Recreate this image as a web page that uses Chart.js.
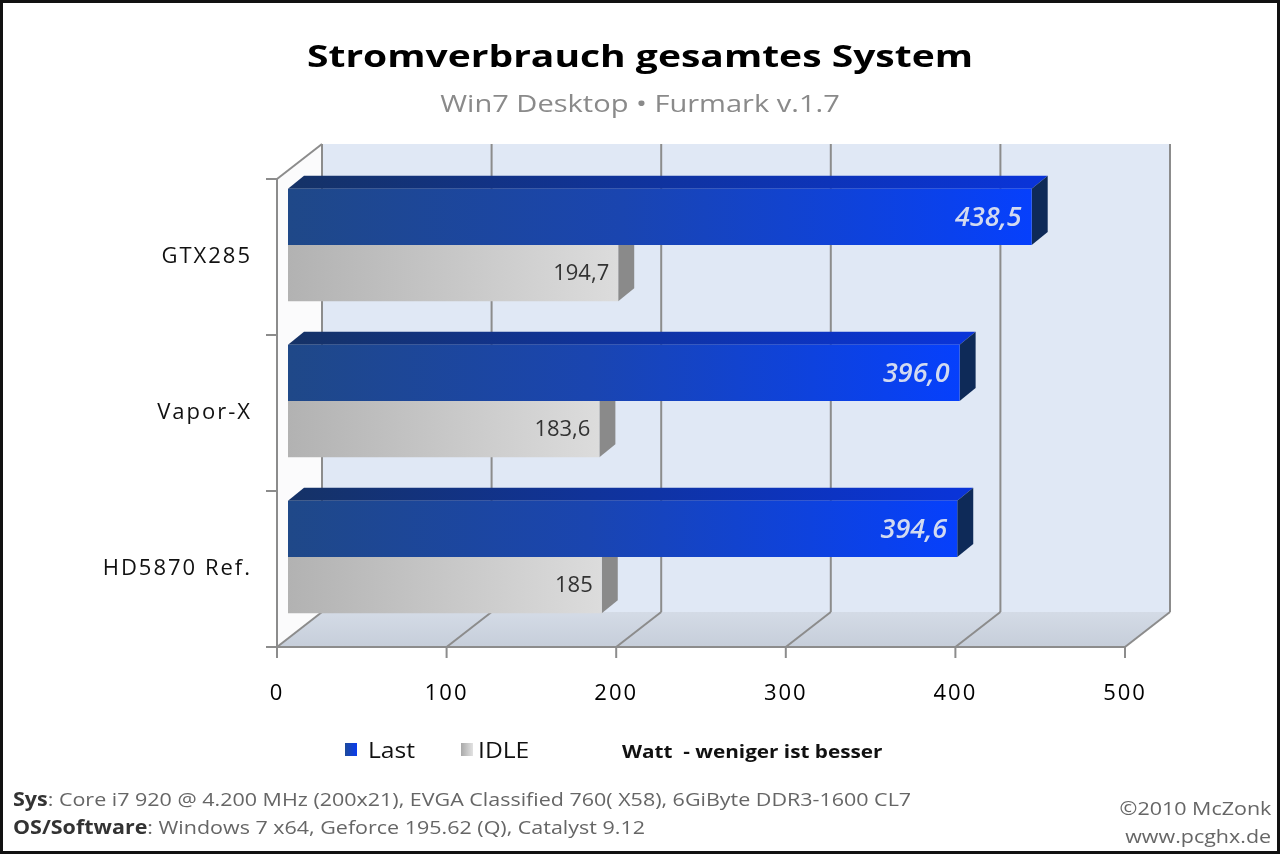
<!DOCTYPE html>
<html>
<head>
<meta charset="utf-8">
<script src="https://cdn.jsdelivr.net/npm/chart.js@4"></script>
<style>
  body { margin: 0; background: #fff; }
  #frame {
    position: relative; width: 1280px; height: 854px;
    box-sizing: border-box; border: 3px solid #111; overflow: hidden;
    font-family: "Open Sans", sans-serif;
  }
  #chart { position: absolute; left: -3px; top: -3px; }
  .txt { position: absolute; white-space: nowrap; line-height: normal; }
  .sl { transform-origin: left top; }
  .sr { transform-origin: right top; }
  #title { left: 0; width: 1274px; text-align: center; top: 32px; font-size: 30px; font-weight: bold; color: #000; transform: scaleX(1.30); }
  #subtitle { left: 0; width: 1274px; text-align: center; top: 83px; font-size: 24px; color: #8a8a8a; transform: scaleX(1.21); }
  .sw { position: absolute; width: 12px; height: 13px; }
  .leg { font-size: 22px; color: #111; transform: scaleX(1.12); }
  .foot { font-size: 19px; color: #666; transform: scaleX(1.13); }
  .foot b { color: #333; }
</style>
</head>
<body>
<div id="frame">
  <canvas id="chart" width="1280" height="854"></canvas>
  <div class="txt" id="title">Stromverbrauch gesamtes System</div>
  <div class="txt" id="subtitle">Win7 Desktop • Furmark v.1.7</div>

  <div class="sw" style="left:342px; top:740px; background:linear-gradient(90deg,#1d4a9a,#0a3cf0);"></div>
  <div class="txt leg sl" style="left:365px; top:731px;">Last</div>
  <div class="sw" style="left:458px; top:740px; background:linear-gradient(90deg,#a9a9a9,#e2e2e2);"></div>
  <div class="txt leg sl" style="left:475px; top:731px;">IDLE</div>
  <div class="txt sl" style="left:619px; top:736px; font-size:18px; font-weight:bold; color:#111; transform:scaleX(1.15);">Watt&nbsp; - weniger ist besser</div>

  <div class="txt foot sl" style="left:10px; top:783px;"><b>Sys</b>: Core i7 920 @ 4.200 MHz (200x21), EVGA Classified 760( X58), 6GiByte DDR3-1600 CL7</div>
  <div class="txt foot sl" style="left:10px; top:811px;"><b>OS/Software</b>: Windows 7 x64, Geforce 195.62 (Q), Catalyst 9.12</div>
  <div class="txt foot sr" style="right:6px; top:792px;">©2010 McZonk</div>
  <div class="txt foot sr" style="right:6px; top:820px;">www.pcghx.de</div>
</div>

<script>
// Data
const cards = ['GTX285', 'Vapor-X', 'HD5870 Ref.'];
const lastValues = [438.5, 396.0, 394.6];
const idleValues = [194.7, 183.6, 185];
const xTicks = [0, 100, 200, 300, 400, 500];

// 3D look
const FRONT = { dx: -11, dy: 12 };   // front plane, relative to bar plane
const BACK = { dx: 34, dy: -23 };    // back wall, relative to bar plane
const BAR_DEPTH = { dx: 16, dy: -13 };

function fmt(v) {
    return Number.isInteger(v) ? String(v) : v.toFixed(1).replace('.', ',');
}

function barGradient(ctx, ds) {
    const chart = ctx.chart;
    const area = chart.chartArea;
    if (!area) return ds === 0 ? '#1540c0' : '#c8c8c8';
    const x = chart.scales.x;
    const end = x.getPixelForValue(ctx.raw);
    const g = chart.ctx.createLinearGradient(area.left, 0, end, 0);
    if (ds === 0) {
        g.addColorStop(0, '#1f4888');
        g.addColorStop(0.45, '#1a45b0');
        g.addColorStop(1, '#0640fc');
    } else {
        g.addColorStop(0, '#b2b2b2');
        g.addColorStop(1, '#dcdcdc');
    }
    return g;
}

function poly(ctx, pts, fill, stroke, lw) {
    ctx.beginPath();
    ctx.moveTo(pts[0][0], pts[0][1]);
    for (let i = 1; i < pts.length; i++) ctx.lineTo(pts[i][0], pts[i][1]);
    ctx.closePath();
    if (fill) { ctx.fillStyle = fill; ctx.fill(); }
    if (stroke) { ctx.strokeStyle = stroke; ctx.lineWidth = lw || 1; ctx.stroke(); }
}

function line(ctx, x1, y1, x2, y2, color, lw) {
    ctx.beginPath();
    ctx.moveTo(x1, y1);
    ctx.lineTo(x2, y2);
    ctx.strokeStyle = color;
    ctx.lineWidth = lw || 1;
    ctx.stroke();
}

const walls3d = {
    id: 'walls3d',
    beforeDraw(chart) {
        // the reference text is wide, so space out axis labels a little
        chart.ctx.letterSpacing = '2px';
    },
    beforeDatasetsDraw(chart) {
        const ctx = chart.ctx;
        ctx.letterSpacing = '0px';
        const area = chart.chartArea;
        const xs = chart.scales.x;
        const x0 = xs.getPixelForValue(xTicks[0]);
        const x1 = xs.getPixelForValue(xTicks[xTicks.length - 1]);
        const top = area.top, bottom = area.bottom;
        ctx.save();

        // back wall
        poly(ctx, [[x0 + BACK.dx, top + BACK.dy], [x1 + BACK.dx, top + BACK.dy],
                   [x1 + BACK.dx, bottom + BACK.dy], [x0 + BACK.dx, bottom + BACK.dy]], '#e0e8f5');
        // left wall
        poly(ctx, [[x0 + FRONT.dx, top + FRONT.dy], [x0 + BACK.dx, top + BACK.dy],
                   [x0 + BACK.dx, bottom + BACK.dy], [x0 + FRONT.dx, bottom + FRONT.dy]], '#fbfbfc');
        // floor
        const fg = ctx.createLinearGradient(0, bottom + BACK.dy, 0, bottom + FRONT.dy);
        fg.addColorStop(0, '#d4dbe6');
        fg.addColorStop(1, '#c6ceda');
        poly(ctx, [[x0 + FRONT.dx, bottom + FRONT.dy], [x1 + FRONT.dx, bottom + FRONT.dy],
                   [x1 + BACK.dx, bottom + BACK.dy], [x0 + BACK.dx, bottom + BACK.dy]], fg);

        // grid lines: back wall verticals + floor diagonals
        xTicks.forEach(t => {
            const px = xs.getPixelForValue(t);
            line(ctx, px + BACK.dx, top + BACK.dy, px + BACK.dx, bottom + BACK.dy, '#8c8c8c', 2);
            line(ctx, px + FRONT.dx, bottom + FRONT.dy, px + BACK.dx, bottom + BACK.dy, '#8c8c8c', 2);
            // tick marks below the front edge
            line(ctx, px + FRONT.dx, bottom + FRONT.dy, px + FRONT.dx, bottom + FRONT.dy + 11, '#8c8c8c', 2);
        });
        // left wall top edge
        line(ctx, x0 + FRONT.dx, top + FRONT.dy, x0 + BACK.dx, top + BACK.dy, '#8c8c8c', 2);
        // front floor edge and y axis
        line(ctx, x0 + FRONT.dx, bottom + FRONT.dy, x1 + FRONT.dx, bottom + FRONT.dy, '#8c8c8c', 2);
        line(ctx, x0 + FRONT.dx, top + FRONT.dy, x0 + FRONT.dx, bottom + FRONT.dy, '#8c8c8c', 2);
        // category separator ticks on y axis
        const band = (bottom - top) / cards.length;
        for (let i = 0; i <= cards.length; i++) {
            const py = top + band * i + FRONT.dy;
            line(ctx, x0 + FRONT.dx - 11, py, x0 + FRONT.dx, py, '#8c8c8c', 2);
        }

        // bar top and side faces (front faces drawn by Chart.js over them)
        const sideColors = ['#0e2a58', '#8a8a8a'];
        chart.data.datasets.forEach((ds, di) => {
            const meta = chart.getDatasetMeta(di);
            meta.data.forEach(el => {
                const bx = el.base, ex = el.x;
                const t = el.y - el.height / 2, b = el.y + el.height / 2;
                const tg = ctx.createLinearGradient(bx, 0, ex, 0);
                if (di === 0) {
                    tg.addColorStop(0, '#153266');
                    tg.addColorStop(1, '#0a34d8');
                } else {
                    tg.addColorStop(0, '#a0a0a0');
                    tg.addColorStop(1, '#c4c4c4');
                }
                poly(ctx, [[bx, t], [ex, t], [ex + BAR_DEPTH.dx, t + BAR_DEPTH.dy],
                           [bx + BAR_DEPTH.dx, t + BAR_DEPTH.dy]], tg);
                poly(ctx, [[ex, t], [ex + BAR_DEPTH.dx, t + BAR_DEPTH.dy],
                           [ex + BAR_DEPTH.dx, b + BAR_DEPTH.dy], [ex, b]], sideColors[di]);
            });
        });
        ctx.restore();
    },
    afterDatasetsDraw(chart) {
        const ctx = chart.ctx;
        ctx.save();
        ctx.textAlign = 'right';
        ctx.textBaseline = 'middle';
        chart.data.datasets.forEach((ds, di) => {
            const meta = chart.getDatasetMeta(di);
            meta.data.forEach((el, i) => {
                const v = ds.data[i];
                if (di === 0) {
                    ctx.font = 'italic 600 27px "Open Sans", sans-serif';
                    ctx.fillStyle = '#d2daf0';
                    ctx.fillText(v.toFixed(1).replace('.', ','), el.x - 10, el.y + 1);
                } else {
                    ctx.font = '22px "Open Sans", sans-serif';
                    ctx.fillStyle = '#333';
                    ctx.fillText(fmt(v), el.x - 9, el.y + 1);
                }
            });
        });
        ctx.restore();
    }
};

new Chart(document.getElementById('chart'), {
    type: 'bar',
    data: {
        labels: cards,
        datasets: [
            {
                label: 'Last',
                data: lastValues,
                backgroundColor: c => barGradient(c, 0),
                borderWidth: 0,
                categoryPercentage: 0.72,
                barPercentage: 1.0
            },
            {
                label: 'IDLE',
                data: idleValues,
                backgroundColor: c => barGradient(c, 1),
                borderWidth: 0,
                categoryPercentage: 0.72,
                barPercentage: 1.0
            }
        ]
    },
    options: {
        indexAxis: 'y',
        responsive: false,
        animation: false,
        layout: { padding: { left: 0, right: 144, top: 167, bottom: 119 } },
        plugins: {
            legend: { display: false },
            tooltip: { enabled: false }
        },
        scales: {
            x: {
                min: 0,
                max: 500,
                afterFit: s => { s.height = 100; },
                afterBuildTicks: s => { s.ticks = xTicks.map(v => ({ value: v })); },
                grid: { display: false, drawTicks: false },
                border: { display: false },
                ticks: {
                    padding: 46,
                    labelOffset: FRONT.dx,
                    color: '#000',
                    font: { family: '"Open Sans", sans-serif', size: 22 }
                }
            },
            y: {
                afterFit: s => { s.width = 288; },
                grid: { display: false, drawTicks: false },
                border: { display: false },
                ticks: {
                    padding: 36,
                    labelOffset: FRONT.dy,
                    color: '#111',
                    font: { family: '"Open Sans", sans-serif', size: 22 }
                }
            }
        }
    },
    plugins: [walls3d]
});
</script>
</body>
</html>
